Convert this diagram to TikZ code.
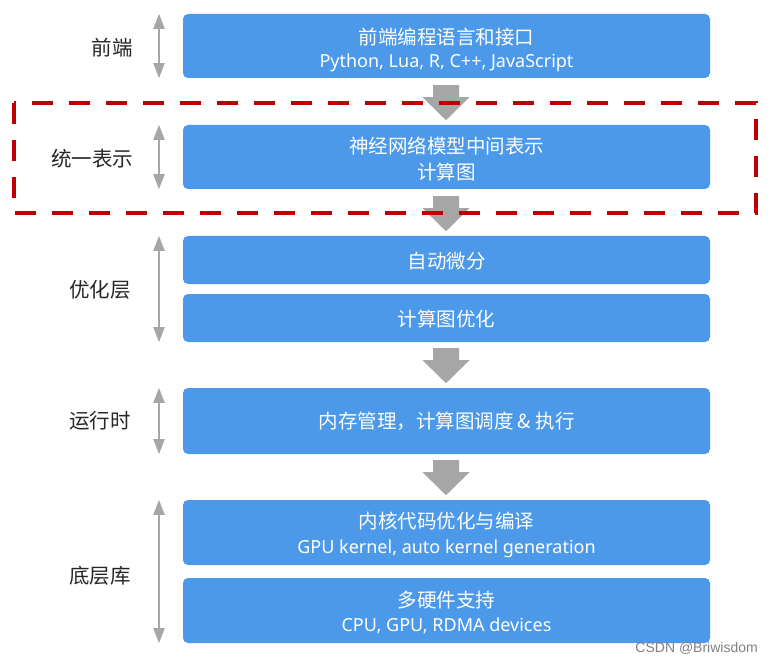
\documentclass[tikz,border=0pt]{standalone}
\usepackage{fontspec}
\setmainfont{Noto Sans}
\newfontfamily\cjk{Noto Sans CJK SC}
\newfontfamily\lat{Noto Sans}
\newfontfamily\wmfont{Liberation Sans}
\usetikzlibrary{arrows.meta,calc}
\definecolor{boxblue}{RGB}{76,153,234}
\definecolor{arrgray}{RGB}{166,166,166}
\definecolor{dashred}{RGB}{192,0,0}
\definecolor{labtext}{RGB}{38,38,38}
\begin{document}
\begin{tikzpicture}[x=1pt,y=-1pt,
  box/.style={fill=boxblue, draw=none, rounded corners=5pt, minimum width=527pt, inner sep=0pt},
  ttl/.style={text=white, font=\cjk\fontsize{19.5}{19.5}\selectfont, inner sep=0pt},
  sub/.style={text=white, font=\lat\fontsize{18}{18}\selectfont, inner sep=0pt},
  lab/.style={text=labtext, font=\cjk\fontsize{20.5}{20.5}\selectfont, inner sep=0pt},
  dbl/.style={draw=arrgray, line width=2pt, {Triangle[length=15pt,width=11pt]}-{Triangle[length=15pt,width=11pt]}},
  blockarrow/.pic={\fill[arrgray] (-13,0) -- (13,0) -- (13,12) -- (23.5,12) -- (0,35) -- (-23.5,12) -- (-13,12) -- cycle;}
]
\useasboundingbox (0,0) rectangle (774,663);

% boxes
\node[box, minimum height=64pt] (b1) at (446.5,46) {};
\node[box, minimum height=64pt] (b2) at (446.5,157) {};
\node[box, minimum height=48pt] (b3) at (446.5,260) {};
\node[box, minimum height=48pt] (b4) at (446.5,318) {};
\node[box, minimum height=66pt] (b5) at (446.5,421) {};
\node[box, minimum height=65pt] (b6) at (446.5,532.5) {};
\node[box, minimum height=65pt] (b7) at (446.5,610.5) {};

% box texts
\node[ttl] (t1) at ($(b1.center)+(0,-9)$) {前端编程语言和接口};
\node[sub] (s1) at ($(b1.center)+(0,17)$) {Python, Lua, R, C++, JavaScript};
\node[ttl] (t2) at ($(b2.center)+(0,-11)$) {神经网络模型中间表示};
\node[ttl] (s2) at ($(b2.center)+(0,15)$) {计算图};
\node[ttl] (t3) at ($(b3.center)+(0,1)$) {自动微分};
\node[ttl] (t4) at ($(b4.center)+(0,1)$) {计算图优化};
\node[ttl] (t5) at ($(b5.center)+(0,0)$) {内存管理，计算图调度 \& 执行};
\node[ttl] (t6) at ($(b6.center)+(0,-11)$) {内核代码优化与编译};
\node[sub] (s6) at ($(b6.center)+(0,16)$) {GPU kernel, auto kernel generation};
\node[ttl] (t7) at ($(b7.center)+(0,-10.5)$) {多硬件支持};
\node[sub] (s7) at ($(b7.center)+(0,15.5)$) {CPU, GPU, RDMA devices};

% left labels
\node[lab] (l1) at (112,48) {前端};
\node[lab] (l2) at (92,159) {统一表示};
\node[lab] (l3) at (100,290) {优化层};
\node[lab] (l4) at (100,421) {运行时};
\node[lab] (l5) at (100,576) {底层库};

% double arrows
\draw[dbl] (159,0 |- b1.north) -- (159,0 |- b1.south);
\draw[dbl] (159,0 |- b2.north) -- (159,0 |- b2.south);
\draw[dbl] (159,0 |- b3.north) -- (159,0 |- b4.south);
\draw[dbl] (159,0 |- b5.north) -- (159,0 |- b5.south);
\draw[dbl] (159,0 |- b6.north) -- (159,0 |- b7.south);

% block arrows
\path (446,0 |- b1.south) ++(0,7) pic {blockarrow};
\path (446,0 |- b2.south) ++(0,7) pic {blockarrow};
\path (446,0 |- b4.south) ++(0,6) pic {blockarrow};
\path (446,0 |- b5.south) ++(0,6) pic {blockarrow};

% dashed frame
\draw[dashred, line width=4.5pt, dash pattern=on 21pt off 16pt] (14,103) rectangle (756,213);

% watermark
\node[text=black!50, font=\wmfont\fontsize{14}{14}\selectfont, inner sep=0pt, anchor=east] (wm) at (758,648) {CSDN @Briwisdom};
\end{tikzpicture}
\end{document}
